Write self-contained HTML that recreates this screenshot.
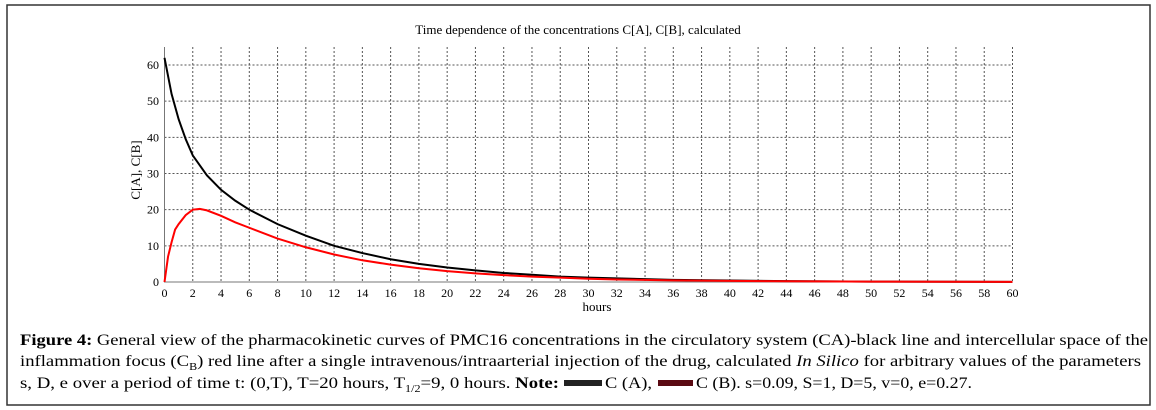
<!DOCTYPE html>
<html><head><meta charset="utf-8"><style>
body{margin:0;background:#fff;width:1156px;height:410px;overflow:hidden}
svg{display:block}
</style></head><body>
<svg id="c" width="1156" height="410" font-family="Liberation Serif, serif">
<rect x="7" y="5" width="1143" height="400" fill="none" stroke="#333" stroke-width="1.5"/>
<text x="578" y="34" text-anchor="middle" font-size="13">Time dependence of the concentrations C[A], C[B], calculated</text>
<g id="grid"></g>
<g id="axes"></g>
<g id="series"></g>
<text x="140" y="170" text-anchor="middle" font-size="13" transform="rotate(-90 140 170)">C[A], C[B]</text>
<text x="597" y="311" text-anchor="middle" font-size="13">hours</text>
<g font-size="15.5">
<text x="20" y="345" textLength="1128" lengthAdjust="spacingAndGlyphs"><tspan font-weight="bold">Figure 4:</tspan> General view of the pharmacokinetic curves of PMC16 concentrations in the circulatory system (CA)-black line and intercellular space of the</text>
<text x="20" y="366" textLength="1121" lengthAdjust="spacingAndGlyphs">inflammation focus (C<tspan font-size="10" dy="4">B</tspan><tspan dy="-4">) red line after a single intravenous/intraarterial injection of the drug, calculated </tspan><tspan font-style="italic">In Silico</tspan> for arbitrary values of the parameters</text>
<text x="20" y="388" textLength="539" lengthAdjust="spacingAndGlyphs">s, D, e over a period of time t: (0,T), T=20 hours, T<tspan font-size="10" dy="4">1/2</tspan><tspan dy="-4">=9, 0 hours. </tspan><tspan font-weight="bold">Note:</tspan></text>
<rect x="564" y="380" width="38" height="6" fill="#222"/>
<text x="605" y="388" textLength="47" lengthAdjust="spacingAndGlyphs">C (A),</text>
<rect x="658" y="380" width="35" height="6" fill="#5a0a12"/>
<text x="696" y="388" textLength="276" lengthAdjust="spacingAndGlyphs">C (B). s=0.09, S=1, D=5, v=0, e=0.27.</text>
</g>
</svg>
<script>
const xTicks=[0,2,4,6,8,10,12,14,16,18,20,22,24,26,28,30,32,34,36,38,40,42,44,46,48,50,52,54,56,58,60];
const yTicks=[0,10,20,30,40,50,60];
const timeA=[0,0.5,1,1.5,2,3,4,5,6,8,10,12,14,16,18,20,22,24,26,28,30,32,36,40,44,50,60];
const concA=[62,52,45,39.5,35,29.5,25.5,22.5,20,16,12.8,10,8,6.3,5,4,3.2,2.5,2,1.5,1.2,1,0.6,0.4,0.25,0.1,0.05];
const timeB=[0,0.25,0.5,0.75,1,1.5,2,2.5,3,4,5,6,8,10,12,14,16,18,20,22,24,26,28,30,32,36,40,44,50,60];
const concB=[0,7,11,14.5,16,18.5,20,20.2,19.8,18.3,16.5,15,12,9.6,7.6,6,4.8,3.8,3,2.4,1.9,1.5,1.2,0.9,0.7,0.45,0.3,0.2,0.1,0.05];
const X=v=>164.5+v*(1012.5-164.5)/60;
const Y=v=>282-v*(282-65)/60;
const NS='http://www.w3.org/2000/svg';
function mk(t,a,p){const e=document.createElementNS(NS,t);for(const k in a)e.setAttribute(k,a[k]);p.appendChild(e);return e;}
const grid=document.getElementById('grid'),axes=document.getElementById('axes'),ser=document.getElementById('series');
const plotTop=47;
xTicks.forEach(v=>{
  if(v>0){const l=mk('line',{x1:X(v),x2:X(v),y1:plotTop,y2:282,stroke:'#555','stroke-width':1,'stroke-dasharray':'2,2'},grid);
  
  }
  const t=mk('text',{x:X(v),y:297,'text-anchor':'middle','font-size':12},axes);t.textContent=v;
  
  
});
yTicks.forEach(v=>{
  if(v>0){const l=mk('line',{x1:164.5,x2:1012.5,y1:Y(v),y2:Y(v),stroke:'#555','stroke-width':1,'stroke-dasharray':'2,2'},grid);
  
  }
  const t=mk('text',{x:159,y:Y(v)+4,'text-anchor':'end','font-size':12},axes);t.textContent=v;
  
  
});
const ax=mk('path',{d:`M164.5 ${plotTop} V282 H1012.5`,fill:'none',stroke:'#777','stroke-width':1},axes);


const pa=mk('polyline',{points:timeA.map((t,i)=>X(t)+','+Y(concA[i])).join(' '),fill:'none',stroke:'#000','stroke-width':2},ser);


const pb=mk('polyline',{points:timeB.map((t,i)=>X(t)+','+Y(concB[i])).join(' '),fill:'none',stroke:'#f00','stroke-width':2},ser);


</script>
</body></html>
